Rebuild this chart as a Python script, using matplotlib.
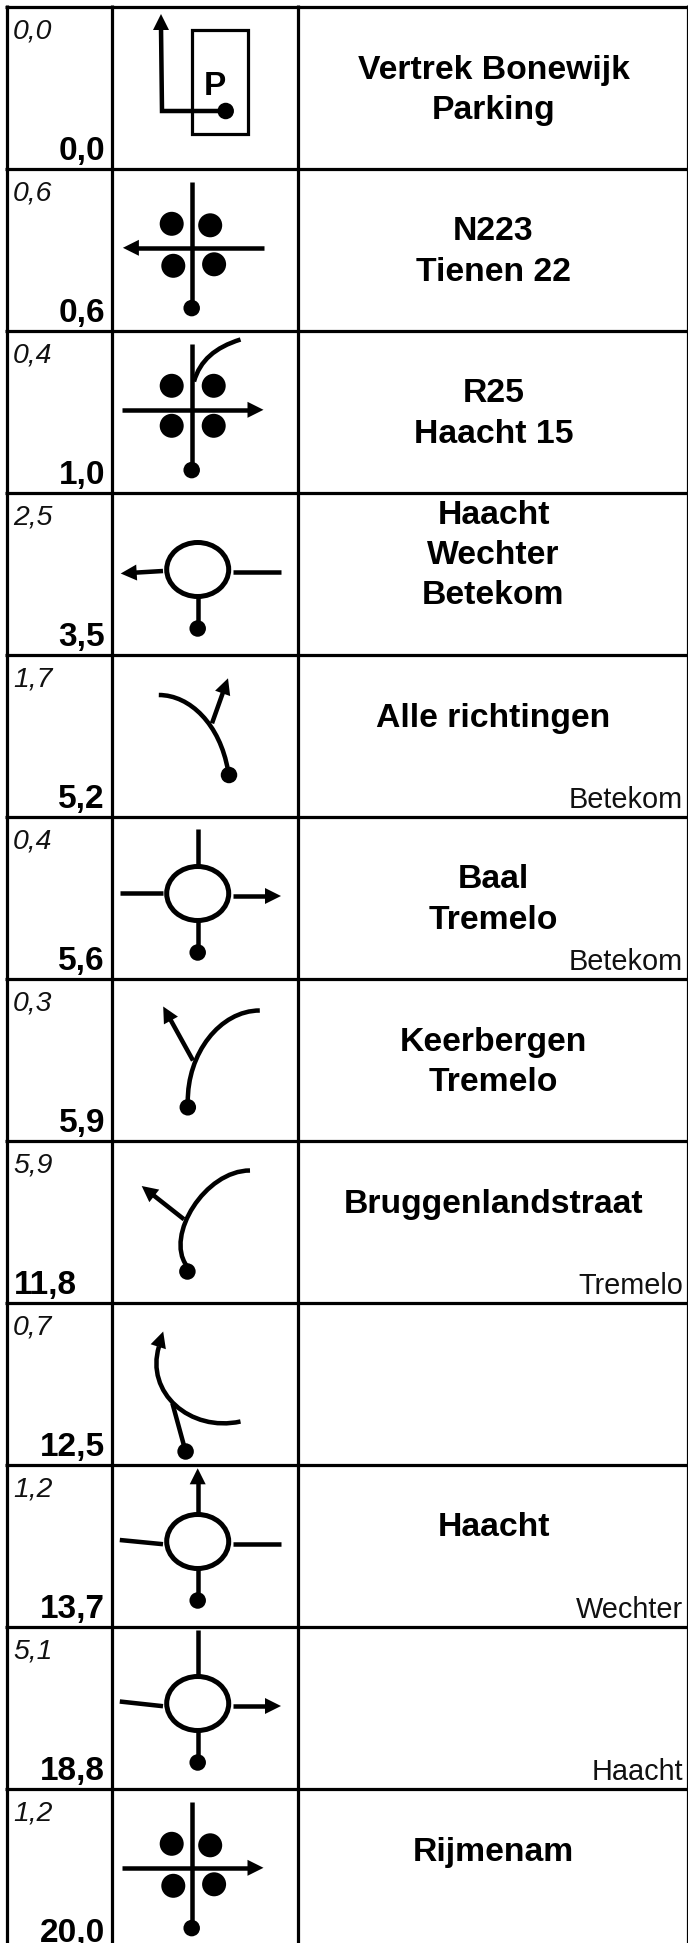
import matplotlib
matplotlib.use("Agg")
from matplotlib import pyplot as plt
from matplotlib.patches import Ellipse, Rectangle, Polygon, PathPatch
from matplotlib.path import Path
import numpy as np

# roadbook rows
partial = ["0,0", "0,6", "0,4", "2,5", "1,7", "0,4", "0,3", "5,9", "0,7", "1,2", "5,1", "1,2"]
total = ["0,0", "0,6", "1,0", "3,5", "5,2", "5,6", "5,9", "11,8", "12,5", "13,7", "18,8", "20,0"]
places = [["Vertrek Bonewijk", "Parking"], ["N223", "Tienen 22"], ["R25", "Haacht 15"],
          ["Haacht", "Wechter", "Betekom"], ["Alle richtingen"], ["Baal", "Tremelo"],
          ["Keerbergen", "Tremelo"], ["Bruggenlandstraat"], [], ["Haacht"], [], ["Rijmenam"]]
corner = ["", "", "", "", "Betekom", "Betekom", "", "Tremelo", "", "Wechter", "Haacht", ""]

plt.rcParams['font.family'] = ['Liberation Sans', 'DejaVu Sans']

row_h = 162.0
top = 6.5
col_x = [6.7, 111.5, 298.4, 688]
px = 0.72  # points per pixel at dpi 100
lw = 3.2 * px
road = 4.5 * px


def line(ax, xs, ys, w=road):
    ax.plot(xs, ys, color='k', lw=w, solid_capstyle='butt', solid_joinstyle='miter')


def curve(ax, p0, c1, c2, p3, w=road):
    path = Path([p0, c1, c2, p3], [Path.MOVETO, Path.CURVE4, Path.CURVE4, Path.CURVE4])
    ax.add_patch(PathPatch(path, fill=False, edgecolor='k', lw=w, capstyle='butt'))


def head(ax, tip, base):
    # arrow head, base is any point behind the tip
    tip = np.array(tip, float)
    base = np.array(base, float)
    d = tip - base
    d = d / np.hypot(*d)
    n = np.array([-d[1], d[0]])
    b = tip - d * 16
    ax.add_patch(Polygon([tip, b + n * 8, b - n * 8], closed=True, color='k', lw=0))


def arrow(ax, start, tip):
    tip = np.array(tip, float)
    start = np.array(start, float)
    d = (tip - start) / np.hypot(*(tip - start))
    end = tip - d * 12
    line(ax, [start[0], end[0]], [start[1], end[1]])
    head(ax, tip, start)


def dot(ax, x, y):
    ax.add_patch(Ellipse((x, y), 16.5, 16.5, color='k', lw=0))


def cross(ax, y0, to, spots):
    # crossing with four traffic lights, y0 = top line of the row
    cx = 191.7
    cy = y0 + 79.3
    line(ax, [cx, cx], [y0 + 13, y0 + 139])
    dot(ax, cx, y0 + 139.6)
    if to == 'left':
        arrow(ax, (263.5, cy), (122.9, cy))
    else:
        arrow(ax, (122, cy), (263.5, cy))
    for dx, dy in spots:
        ax.add_patch(Ellipse((cx + dx, cy + dy), 24, 24, color='k', lw=0))


def ring(ax, y0, up=None, up_arrow=False, left=None, left_end=79.7, left_arrow=False, right=False, right_arrow=False):
    # roundabout, every arm is optional
    cx = 197.7
    cy = y0 + 77
    ax.add_patch(Ellipse((cx, cy), 62, 54, facecolor='white', edgecolor='k', lw=5 * px, zorder=3))
    line(ax, [cx, cx], [cy + 27, y0 + 135])
    dot(ax, cx, y0 + 136)
    if up is not None:
        line(ax, [cx, cx], [y0 + up, cy - 26])
    if up_arrow:
        arrow(ax, (cx, cy - 27), (cx, y0 + 3.8))
    if left is not None:
        line(ax, [119.8, 163], [y0 + left, y0 + left_end])
    if left_arrow:
        arrow(ax, (163, y0 + 78.5), (120.7, y0 + 81))
    if right:
        line(ax, [232.6, 281], [y0 + 79.5, y0 + 79.5])
    if right_arrow:
        arrow(ax, (232.6, y0 + 79.5), (281, y0 + 79.5))


fig = plt.figure(figsize=(6.88, 19.43), dpi=100)
ax = fig.add_axes([0, 0, 1, 1])
ax.set_xlim(0, 688)
ax.set_ylim(1943, 0)
ax.axis('off')

spots_a = [(-20, -24), (18.5, -22.5), (-18.4, 18), (22.4, 16.5)]
spots_b = [(-20, -24), (22, -24), (-20, 16), (22, 16)]

for i in range(len(total)):
    y0 = top + i * row_h
    ax.text(13, y0 + 32, partial[i], fontsize=20.4, style='italic', color='#111111', ha='left', va='baseline')
    # 11,8 sits against the left side in the original
    if i == 7:
        ax.text(14, y0 + 153.5, total[i], fontsize=24, weight='bold', ha='left', va='baseline')
    else:
        ax.text(105, y0 + 153.5, total[i], fontsize=24, weight='bold', ha='right', va='baseline', clip_on=False)

    first = y0 + 72
    if len(places[i]) == 3:
        first = y0 + 31
    for j, name in enumerate(places[i]):
        ax.text(493.5, first + j * 40.5, name, fontsize=24.3, weight='bold', ha='center', va='baseline')
    if corner[i]:
        ax.text(683, y0 + 153, corner[i], fontsize=20.8, ha='right', va='baseline', color='#111111')

    if i == 0:
        ax.add_patch(Rectangle((191.7, y0 + 23.5), 56.6, 104, fill=False, edgecolor='k', lw=lw))
        line(ax, [225, 162, 161], [y0 + 104.5, y0 + 104.5, y0 + 20])
        head(ax, (161, y0 + 7.5), (161, y0 + 30))
        dot(ax, 225.7, y0 + 104.5)
        ax.text(215, y0 + 88.5, 'P', fontsize=24, weight='bold', ha='center', va='baseline')
    elif i == 1:
        cross(ax, y0, 'left', spots_a)
    elif i == 2:
        cross(ax, y0, 'right', spots_b)
        curve(ax, (194, y0 + 51), (200, y0 + 30), (215, y0 + 17), (240.5, y0 + 9))
    elif i == 3:
        ring(ax, y0, left_arrow=True, right=True)
    elif i == 4:
        arrow(ax, (212, y0 + 68.8), (228, y0 + 23.8))
        curve(ax, (158.8, y0 + 40.5), (190, y0 + 40.5), (220, y0 + 70), (228, y0 + 116))
        dot(ax, 229, y0 + 120.5)
    elif i == 5:
        ring(ax, y0, up=12.8, left=76, left_end=76, right_arrow=True)
    elif i == 6:
        arrow(ax, (193, y0 + 82), (163.2, y0 + 28))
        curve(ax, (259.8, y0 + 32), (220, y0 + 32), (187, y0 + 75), (187.8, y0 + 124))
        dot(ax, 187.8, y0 + 128.8)
    elif i == 7:
        arrow(ax, (184, y0 + 78.8), (141.7, y0 + 45.5))
        curve(ax, (250, y0 + 30), (205, y0 + 30), (165, y0 + 95), (186.5, y0 + 125))
        dot(ax, 187.4, y0 + 131)
    elif i == 8:
        line(ax, [172.4, 185.6], [y0 + 100.8, y0 + 149])
        dot(ax, 185.6, y0 + 149)
        curve(ax, (240.5, y0 + 119), (190, y0 + 130), (145, y0 + 90), (159, y0 + 44))
        head(ax, (163.2, y0 + 29), (158, y0 + 45))
    elif i == 9:
        ring(ax, y0, up_arrow=True, left=75.5, right=True)
    elif i == 10:
        ring(ax, y0, up=3.5, left=75, right_arrow=True)
    elif i == 11:
        cross(ax, y0, 'right', spots_a)

# table grid
for i in range(len(total) + 1):
    y = top + i * row_h
    ax.plot([col_x[0] - 1.5, 688], [y, y], color='k', lw=lw, solid_capstyle='butt')
for x in col_x:
    ax.plot([x, x], [top - 1.5, 1943], color='k', lw=lw, solid_capstyle='butt')

fig.savefig("out.png", dpi=100)
